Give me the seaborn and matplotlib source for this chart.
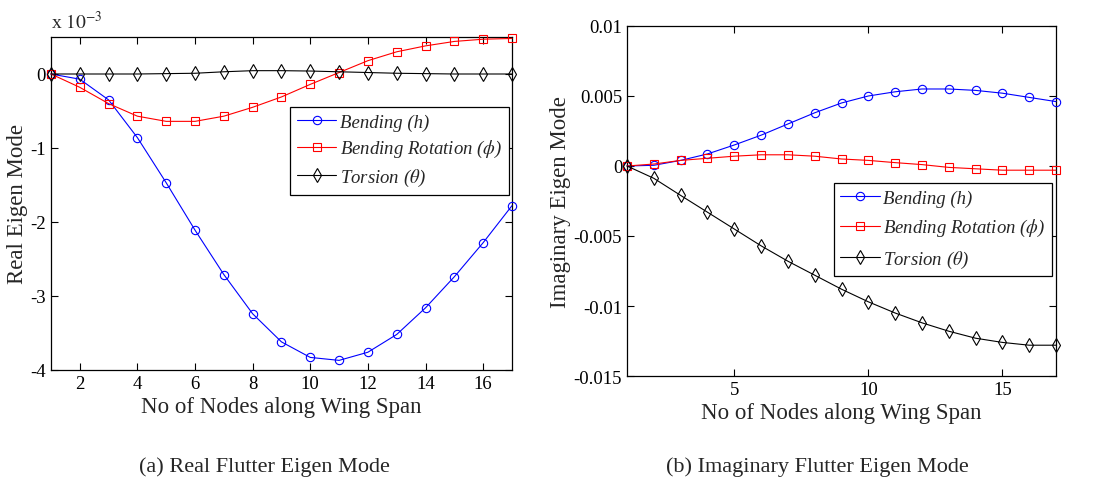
import numpy as np
import pandas as pd
import seaborn as sns
import matplotlib.pyplot as plt

# Knoten entlang der Spannweite
nodes = list(range(1, 18))

# (a) Realteil, Werte in Einheiten von 1e-3
real_bending = [0, -0.07, -0.35, -0.86, -1.47, -2.11, -2.71, -3.24, -3.62,
                -3.83, -3.87, -3.76, -3.52, -3.16, -2.74, -2.28, -1.78]
real_rotation = [0, -0.18, -0.40, -0.57, -0.64, -0.64, -0.57, -0.45, -0.31,
                 -0.14, 0.02, 0.18, 0.30, 0.38, 0.44, 0.47, 0.48]
real_torsion = [0, 0, 0, 0, 0.005, 0.01, 0.03, 0.045, 0.045,
                0.04, 0.03, 0.02, 0.01, 0.005, 0, 0, 0]

# (b) Imaginärteil
imag_bending = [0, 0.00005, 0.0004, 0.00086, 0.0015, 0.0022, 0.003, 0.0038, 0.0045,
                0.005, 0.0053, 0.0055, 0.0055, 0.0054, 0.0052, 0.0049, 0.0046]
imag_rotation = [0, 0.00014, 0.0004, 0.00055, 0.0007, 0.0008, 0.0008, 0.0007, 0.0005,
                 0.0004, 0.00024, 0.0001, -0.0001, -0.0002, -0.0003, -0.0003, -0.0003]
imag_torsion = [0, -0.00088, -0.0021, -0.0033, -0.0045, -0.0057, -0.0068, -0.0078, -0.0088,
                -0.0097, -0.0105, -0.0112, -0.0118, -0.0123, -0.0126, -0.0128, -0.0128]

labels = ["Bending (h)", r"Bending Rotation ($\phi$)", r"Torsion ($\theta$)"]
colors = ["blue", "red", "black"]
markers = ["o", "s", "d"]

sns.set_style("ticks")
plt.rcParams["font.family"] = ["Liberation Serif", "DejaVu Serif"]
plt.rcParams["mathtext.fontset"] = "stix"
plt.rcParams["xtick.direction"] = "in"
plt.rcParams["ytick.direction"] = "in"
plt.rcParams["axes.edgecolor"] = "black"
plt.rcParams["axes.linewidth"] = 0.9

fig = plt.figure(figsize=(10.96, 4.81), dpi=100)
ax1 = fig.add_axes([0.0465, 0.2287, 0.4206, 0.6923])
ax2 = fig.add_axes([0.5721, 0.2162, 0.3914, 0.7277])


def draw(ax, series):
    for vals, lab, col, mk in zip(series, labels, colors, markers):
        sns.lineplot(x=nodes, y=vals, ax=ax, color=col, linewidth=0.8,
                     marker=mk, markersize=7 if mk == "d" else 6,
                     markerfacecolor="none", markeredgecolor=col,
                     markeredgewidth=0.8, label=lab, clip_on=False, zorder=3)
    ax.tick_params(top=True, right=True, length=5, width=0.8,
                   labelsize=13.5, colors="black")
    for s in ax.spines.values():
        s.set_visible(True)
        s.set_color("black")
    ax.set_xlabel("No of Nodes along Wing Span", fontsize=16.5, labelpad=3)


def legend(ax, anchor, spacing):
    leg = ax.legend(loc="upper right", bbox_to_anchor=anchor, fancybox=False,
                    edgecolor="black", framealpha=1,
                    prop={"style": "italic", "size": 13.5},
                    borderaxespad=0, handlelength=2.1, handletextpad=0.2,
                    labelspacing=spacing, borderpad=0.35)
    leg.get_frame().set_linewidth(0.9)
    leg.set_zorder(5)


draw(ax1, [real_bending, real_rotation, real_torsion])
ax1.set_xlim(1, 17)
ax1.set_ylim(-4, 0.5)
ax1.set_xticks([2, 4, 6, 8, 10, 12, 14, 16])
ax1.set_yticks([0, -1, -2, -3, -4])
ax1.set_yticklabels(["0", "-1", "-2", "-3", "-4"])
ax1.set_ylabel("Real Eigen Mode", fontsize=16.5, labelpad=2)
ax1.text(0, 1.015, r"x $\mathrm{10}^{-3}$", transform=ax1.transAxes,
         fontsize=14, ha="left", va="bottom")
legend(ax1, (0.993, 0.79), 0.4)

draw(ax2, [imag_bending, imag_rotation, imag_torsion])
ax2.set_xlim(1, 17)
ax2.set_ylim(-0.015, 0.01)
ax2.set_xticks([5, 10, 15])
ax2.set_yticks([0.01, 0.005, 0, -0.005, -0.01, -0.015])
ax2.set_yticklabels(["0.01", "0.005", "0", "-0.005", "-0.01", "-0.015"])
ax2.set_ylabel("Imaginary Eigen Mode", fontsize=16.5, labelpad=2)
legend(ax2, (0.991, 0.551), 0.55)

fig.text(264 / 1096, 1 - 467 / 481, "(a) Real Flutter Eigen Mode",
         fontsize=16, ha="center", va="center")
fig.text(817 / 1096, 1 - 467 / 481, "(b) Imaginary Flutter Eigen Mode",
         fontsize=16, ha="center", va="center")

plt.savefig("out.png", dpi=100)
